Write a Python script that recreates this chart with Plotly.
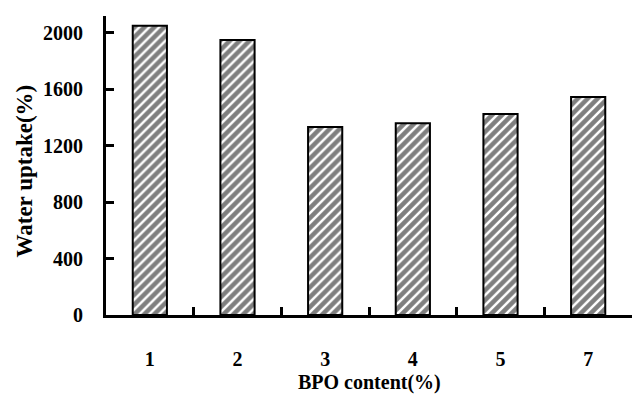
import plotly.graph_objects as go

categories = ["1", "2", "3", "4", "5", "7"]
water_uptake = [2050, 1950, 1333, 1360, 1425, 1545]
y_ticks = [0, 400, 800, 1200, 1600, 2000]

FONT = "Liberation Serif"

fig = go.Figure(go.Bar(
    x=categories,
    y=water_uptake,
    width=0.39,
    marker=dict(
        color="white",
        line=dict(color="black", width=2),
        pattern=dict(shape="/", fgcolor="black", bgcolor="white", size=7, solidity=0.65),
    ),
))

fig.update_layout(
    width=632, height=394,
    margin=dict(l=106, r=0, t=16, b=79, autoexpand=False),
    plot_bgcolor="white", paper_bgcolor="white",
    showlegend=False,
    font=dict(family=FONT, color="black"),
    annotations=[
        dict(text="<b>BPO content(%)</b>", xref="paper", yref="paper", x=0.5, y=0,
             yshift=-67, xanchor="center", yanchor="middle", showarrow=False,
             font=dict(family=FONT, size=20, color="black")),
        dict(text="<b>Water uptake(%)</b>", xref="paper", yref="paper", x=0, y=0.48,
             xshift=-82, xanchor="center", yanchor="middle", showarrow=False, textangle=-90,
             font=dict(family=FONT, size=23, color="black")),
    ],
)

fig.update_xaxes(
    type="category",
    automargin=False,
    tickson="boundaries",
    ticks="inside", ticklen=8, tickwidth=3, tickcolor="black",
    showline=True, linecolor="black", linewidth=3,
    showgrid=False,
    tickfont=dict(family=FONT, size=20, color="black", weight="bold"),
    ticklabelstandoff=24,
)

fig.update_yaxes(
    range=[0, 2120],
    automargin=False,
    tickvals=y_ticks,
    ticks="inside", ticklen=8, tickwidth=3, tickcolor="black",
    showline=True, linecolor="black", linewidth=3,
    showgrid=False, zeroline=False,
    tickfont=dict(family=FONT, size=20, color="black", weight="bold"),
    ticklabelstandoff=16,
)

fig.write_html(
    "out.html",
    config={"responsive": False, "displayModeBar": False},
    post_script="document.body.style.margin='0';document.body.style.overflow='hidden';",
)
